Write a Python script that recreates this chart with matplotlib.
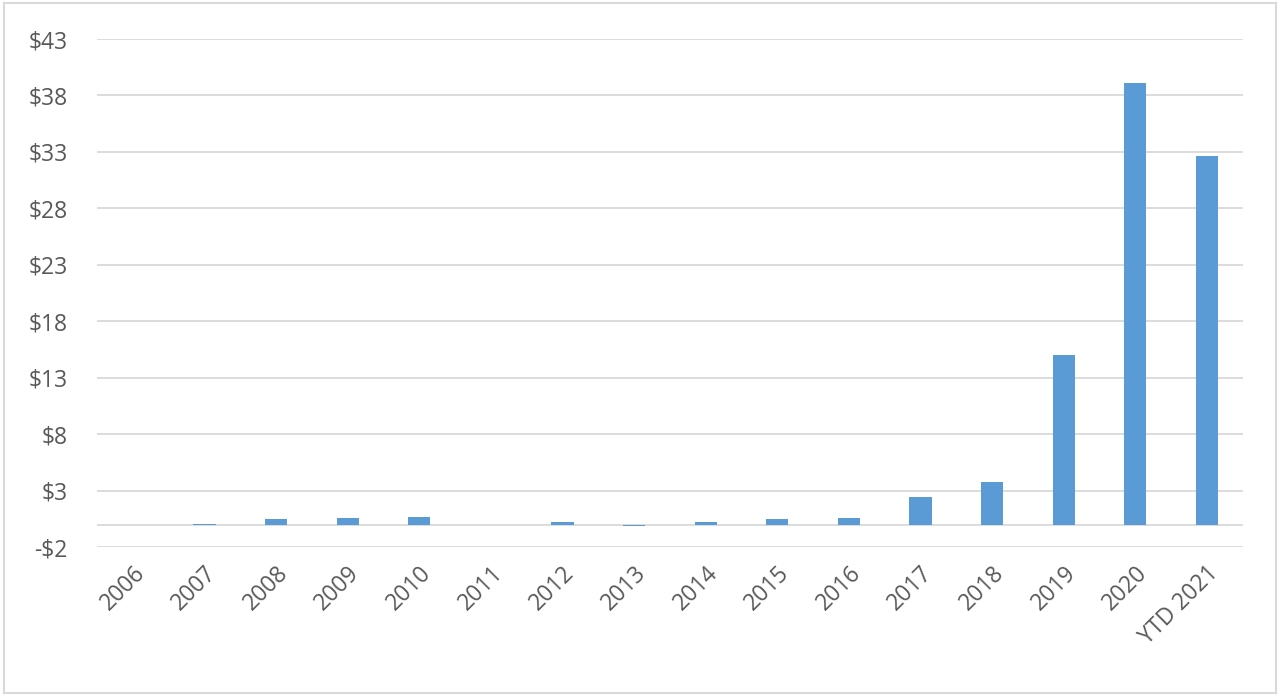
import matplotlib.pyplot as plt
from matplotlib.patches import Rectangle

YEARS = ["2006", "2007", "2008", "2009", "2010", "2011", "2012", "2013",
         "2014", "2015", "2016", "2017", "2018", "2019", "2020", "YTD 2021"]
VALUES = [0.0, 0.02, 0.45, 0.57, 0.63, -0.05, 0.2, -0.1,
          0.2, 0.5, 0.57, 2.45, 3.78, 15.0, 39.15, 32.65]
Y_TICKS = [-2, 3, 8, 13, 18, 23, 28, 33, 38, 43]

BAR_COLOR = "#5b9bd5"
GRID_COLOR = "#d9d9d9"
TEXT_COLOR = "#595959"


def main():
    plt.rcParams['font.family'] = ['Open Sans', 'DejaVu Sans']
    fig = plt.figure(figsize=(12.8, 6.97), dpi=100)
    ax = fig.add_axes([0.0758, 0.215, 0.895, 0.729])

    x = range(len(YEARS))
    ax.bar(x, VALUES, width=0.31, color=BAR_COLOR, zorder=3)

    ax.set_ylim(-2, 43)
    ax.set_xlim(-0.5, len(YEARS) - 0.5)
    ax.set_yticks(Y_TICKS)
    ax.set_yticklabels([f"-${-t}" if t < 0 else f"${t}" for t in Y_TICKS])
    ax.set_xticks(list(x))
    ax.set_xticklabels(YEARS, rotation=45, ha='right', rotation_mode='anchor')

    ax.grid(axis='y', color=GRID_COLOR, linewidth=1.3, zorder=0)
    ax.axhline(0, color=GRID_COLOR, linewidth=1.3, zorder=1)
    for side in ax.spines.values():
        side.set_visible(False)
    ax.tick_params(axis='both', length=0, colors=TEXT_COLOR, labelsize=16.5)
    ax.tick_params(axis='y', pad=21)
    ax.tick_params(axis='x', pad=10)

    fig.patches.append(Rectangle((0.003, 0.006), 0.994, 0.99, transform=fig.transFigure,
                                 fill=False, edgecolor=GRID_COLOR, linewidth=1.5))

    fig.savefig("out.png", dpi=100)


if __name__ == "__main__":
    main()
